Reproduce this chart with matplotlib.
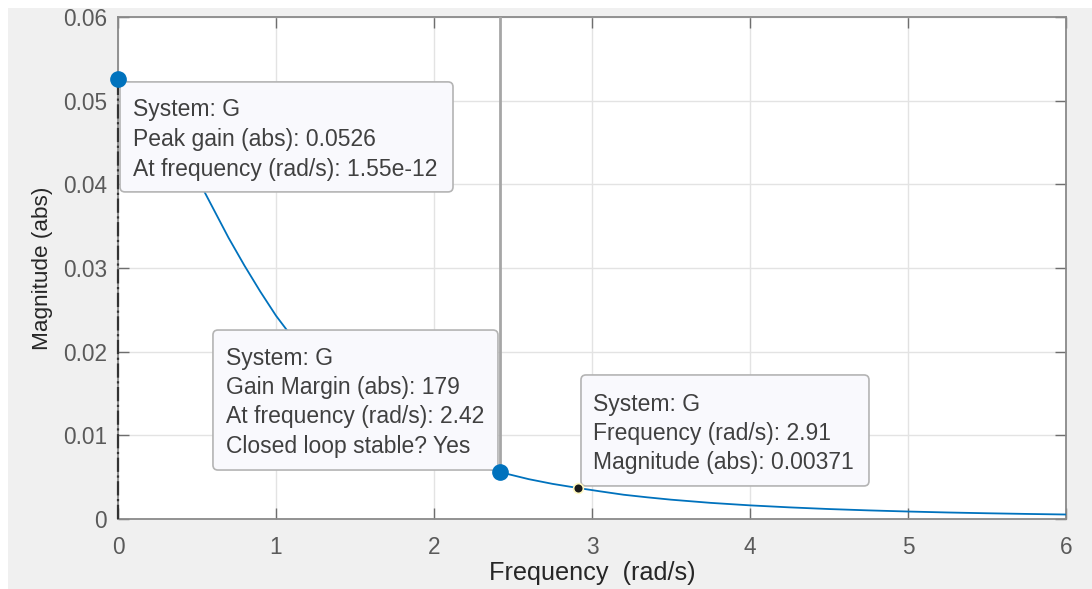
import matplotlib
matplotlib.use("Agg")
import matplotlib.pyplot as plt
from matplotlib.patches import Rectangle, FancyBboxPatch
from matplotlib.transforms import IdentityTransform

plt.rcParams['font.family'] = ['Liberation Sans', 'DejaVu Sans']

# magnitude response of G (rad/s, abs)
freq = [0.0, 0.1, 0.2, 0.3, 0.4, 0.5, 0.6, 0.7, 0.8, 0.9, 1.0, 1.1, 1.2, 1.3, 1.4,
        1.5, 1.6, 1.7, 1.8, 1.9, 2.0, 2.1, 2.2, 2.3, 2.42, 2.6, 2.75, 2.91, 3.05,
        3.2, 3.35, 3.5, 3.75, 4.0, 4.25, 4.5, 4.75, 5.0, 5.25, 5.5, 5.75, 6.0]
mag = [0.0526, 0.0520, 0.0502, 0.0476, 0.0443, 0.0408, 0.0372, 0.0336, 0.0303,
       0.0272, 0.0243, 0.0218, 0.0195, 0.0175, 0.0157, 0.0141, 0.0126, 0.0113,
       0.0102, 0.0092, 0.00835, 0.00757, 0.00687, 0.00625, 0.00559, 0.00476,
       0.00420, 0.00371, 0.00331, 0.00290, 0.00259, 0.00231, 0.00193, 0.00163,
       0.00139, 0.00119, 0.00103, 0.000894, 0.000779, 0.000686, 0.000606, 0.000537]

peak = (0.0, 0.0526)
gm_point = (2.42, 0.00559)
cursor = (2.91, 0.00371)

tip_peak = ["System: G", "Peak gain (abs): 0.0526", "At frequency (rad/s): 1.55e-12"]
tip_gm = ["System: G", "Gain Margin (abs): 179", "At frequency (rad/s): 2.42",
          "Closed loop stable? Yes"]
tip_cursor = ["System: G", "Frequency (rad/s): 2.91", "Magnitude (abs): 0.00371"]

W, H = 1092, 589
fig = plt.figure(figsize=(W / 100, H / 100), dpi=100)
fig.patch.set_facecolor('white')
fig.add_artist(Rectangle((8 / W, 0), 1 - 8 / W, 1 - 8 / H, transform=fig.transFigure,
                         facecolor='#f0f0f0', edgecolor='none', zorder=-10))

ax = fig.add_axes([118 / W, (H - 519) / H, (1066 - 118) / W, (519 - 17) / H])
ax.set_xlim(0, 6)
ax.set_ylim(0, 0.06)
ax.set_xticks(range(0, 7))
ax.set_yticks([0, 0.01, 0.02, 0.03, 0.04, 0.05, 0.06])
ax.set_yticklabels(['0', '0.01', '0.02', '0.03', '0.04', '0.05', '0.06'])
ax.grid(True, color='#e3e3e3', linewidth=1)
ax.set_axisbelow(True)
for s in ax.spines.values():
    s.set_color('#8a8a8a')
    s.set_linewidth(1.3)
ax.tick_params(direction='in', length=8, width=1, color='#6e6e6e', top=True, right=True,
               labelsize=16.3, labelcolor='#5a5a5a')
ax.tick_params(axis='x', pad=12)
ax.tick_params(axis='y', pad=8)
ax.set_xlabel('Frequency  (rad/s)', fontsize=18.2, color='#262626', labelpad=2)
ax.set_ylabel('Magnitude (abs)', fontsize=16.2, color='#262626', labelpad=7)

ax.plot(freq, mag, color='#0072BD', linewidth=1.3, zorder=3)

# peak gain marker with dash-dot line down to 0
ax.plot([peak[0], peak[0]], [0, peak[1]], color='#333333', linestyle='-.',
        linewidth=1.6, clip_on=False, zorder=4)
ax.plot(*peak, 'o', color='#0072BD', markersize=11, clip_on=False, zorder=6)

# gain margin line
ax.plot([gm_point[0], gm_point[0]], [gm_point[1], 0.06], color='#a6a6a6',
        linewidth=2, zorder=4)
ax.plot(*gm_point, 'o', color='#0072BD', markersize=11, zorder=6)

# data cursor
ax.plot(*cursor, 'o', markerfacecolor='#1a1a1a', markeredgecolor='#fff8c0',
        markersize=7, markeredgewidth=1.2, zorder=6)


def datatip(anchor, dx, dy, w, h, lines, first, step, tx):
    # dx, dy: box top-left offset from anchor in image pixels (y downwards)
    axp, ayp = ax.transData.transform(anchor)
    left = axp + dx
    top = ayp - dy
    box = FancyBboxPatch((left, top - h), w, h,
                         boxstyle='round,pad=0,rounding_size=5',
                         transform=IdentityTransform(), facecolor='#f9f9fd',
                         edgecolor='#b4b4b4', linewidth=1.2, zorder=5, clip_on=False)
    ax.add_artist(box)
    for i, s in enumerate(lines):
        ax.text(left + tx, top - first - i * step, s, transform=IdentityTransform(),
                fontsize=16.5, color='#404040', va='center', ha='left', zorder=7,
                clip_on=False)


datatip(peak, 2, 3, 333, 110, tip_peak, 28, 30, 13)
datatip(gm_point, -287.4, -142.2, 285, 140, tip_gm, 28, 29.4, 13)
datatip(cursor, 3.2, -113, 288, 111, tip_cursor, 30, 29, 12)

fig.savefig('out.png', dpi=100)
